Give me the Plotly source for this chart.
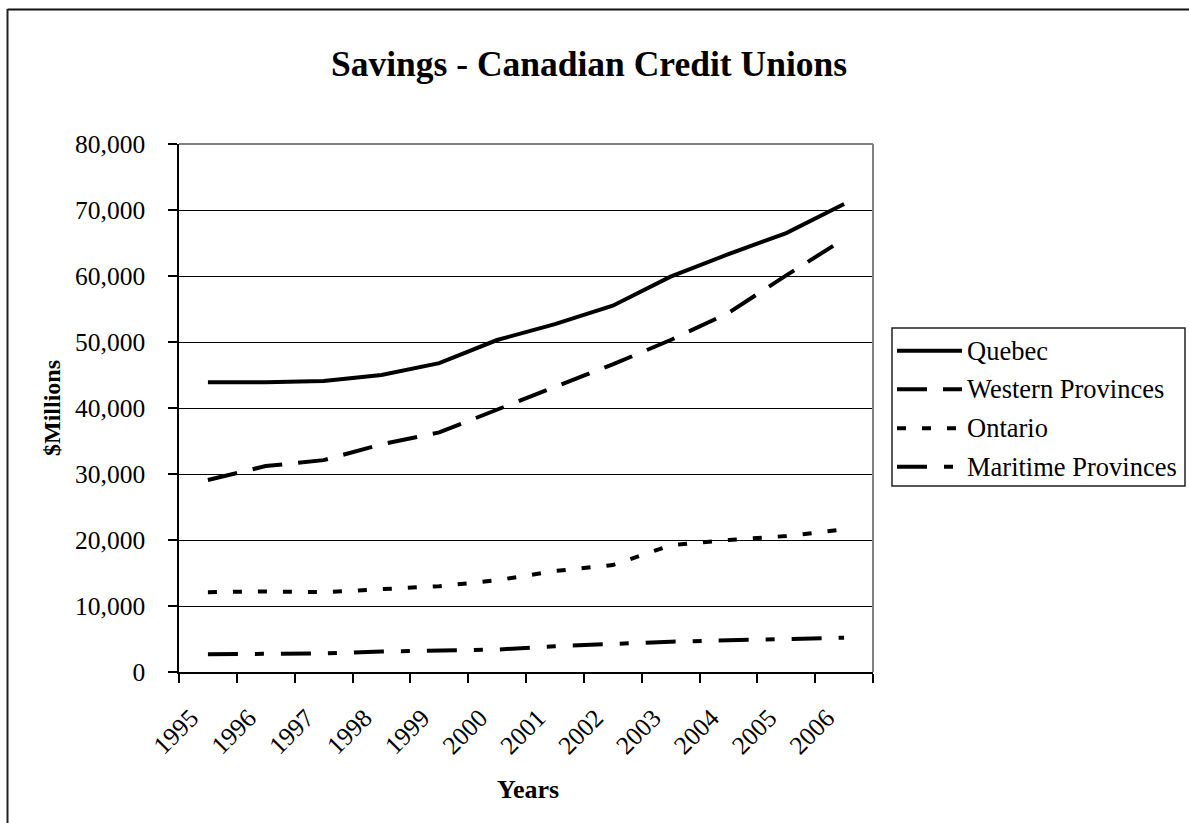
import plotly.graph_objects as go

# ---------------- data ----------------
years = ['1995', '1996', '1997', '1998', '1999', '2000',
         '2001', '2002', '2003', '2004', '2005', '2006']
quebec = [43900, 43900, 44100, 45000, 46800, 50300, 52700, 55500, 59900, 63300, 66500, 70900]
western = [29100, 31200, 32100, 34500, 36300, 39800, 43200, 46600, 50300, 54400, 60100, 65600]
ontario = [12100, 12200, 12100, 12500, 13000, 13900, 15300, 16200, 19200, 20000, 20600, 21600]
maritime = [2700, 2700, 2800, 3100, 3300, 3400, 3900, 4300, 4600, 4800, 5000, 5200]

series_names = ['Quebec', 'Western Provinces', 'Ontario', 'Maritime Provinces']
series_values = [quebec, western, ontario, maritime]
series_dash = ['solid', '30px,16px', '9px,16px', '30px,17px,9px,17px']

title_text = 'Savings - Canadian Credit Unions'
x_title = 'Years'
y_title = '$Millions'

# ---------------- layout geometry ----------------
W, H = 1189, 823
L, R, T, B = 179, 873, 144, 672   # plot area in pixels
PW, PH = R - L, B - T

def px(xp):
    return (xp - L) / PW

def py(yp):
    return (B - yp) / PH

FONT = 'Liberation Serif, Times New Roman, serif'

fig = go.Figure()
for name, vals, dash in zip(series_names, series_values, series_dash):
    fig.add_trace(go.Scatter(
        x=years, y=vals, name=name, mode='lines',
        line=dict(color='black', width=4, dash=dash),
        showlegend=False, hoverinfo='skip'))

shapes = []
annotations = []

# plot area border (top and right, gray)
shapes.append(dict(type='line', xref='paper', yref='paper', x0=0, x1=1, y0=1, y1=1,
                   line=dict(color='#808080', width=2), layer='above'))
shapes.append(dict(type='line', xref='paper', yref='paper', x0=1, x1=1, y0=0, y1=1,
                   line=dict(color='#808080', width=2), layer='above'))

# outer chart frame (top and left visible)
shapes.append(dict(type='line', xref='paper', yref='paper', x0=px(7.5), x1=px(1200),
                   y0=py(9.5), y1=py(9.5), line=dict(color='#111', width=2)))
shapes.append(dict(type='line', xref='paper', yref='paper', x0=px(7.5), x1=px(7.5),
                   y0=py(9), y1=py(830), line=dict(color='#222', width=2)))

# custom legend
lg_x0, lg_x1, lg_y0, lg_y1 = 892, 1185, 328, 486
shapes.append(dict(type='rect', xref='paper', yref='paper', x0=px(lg_x0), x1=px(lg_x1),
                   y0=py(lg_y0), y1=py(lg_y1), line=dict(color='#222', width=1.5),
                   fillcolor='white'))
entry_y = [350.7, 389.3, 428.3, 466.7]
for name, dash, yy in zip(series_names, series_dash, entry_y):
    shapes.append(dict(type='line', xref='paper', yref='paper', x0=px(897), x1=px(962),
                       y0=py(yy), y1=py(yy), line=dict(color='black', width=4, dash=dash)))
    annotations.append(dict(text=name, xref='paper', yref='paper', x=px(965), y=py(yy),
                            xanchor='left', yanchor='middle', showarrow=False,
                            font=dict(family=FONT, size=26.5, color='black')))

# axis titles
annotations.append(dict(text='<b>' + y_title + '</b>', xref='paper', yref='paper',
                        x=px(52), y=py(408), textangle=-90, showarrow=False,
                        xanchor='center', yanchor='middle',
                        font=dict(family=FONT, size=24, color='black')))
annotations.append(dict(text='<b>' + x_title + '</b>', xref='paper', yref='paper',
                        x=px(528), y=py(789), showarrow=False,
                        xanchor='center', yanchor='middle',
                        font=dict(family=FONT, size=26, color='black')))

fig.update_layout(
    width=W, height=H,
    margin=dict(l=L, r=W - R, t=T, b=H - B, pad=0),
    paper_bgcolor='white', plot_bgcolor='white',
    font=dict(family=FONT, size=25, color='black'),
    title=dict(text='<b>' + title_text + '</b>', xref='paper', x=px(589), xanchor='center',
               yref='container', y=1 - 64 / H, yanchor='middle',
               font=dict(family=FONT, size=35.5, color='black')),
    shapes=shapes, annotations=annotations,
    showlegend=False, hovermode=False,
)

fig.update_xaxes(
    type='category', range=[-0.5, 11.5], tickson='boundaries',
    ticks='outside', ticklen=9, tickwidth=1.5, tickcolor='black',
    showline=True, linecolor='black', linewidth=1.5,
    showgrid=False, zeroline=False, tickangle=-45,
    ticklabelstandoff=19, ticklabelshift=-17,
    tickfont=dict(family=FONT, size=25.5, color='black'),
)
fig.update_yaxes(
    range=[0, 80000], dtick=10000, tickformat=',d',
    ticks='outside', ticklen=9, tickwidth=1.5, tickcolor='black',
    showline=True, linecolor='black', linewidth=1.5,
    showgrid=True, gridcolor='black', gridwidth=1, zeroline=False,
    ticklabelstandoff=18,
    tickfont=dict(family=FONT, size=25.5, color='black'),
)

fig.write_html('out.html')
